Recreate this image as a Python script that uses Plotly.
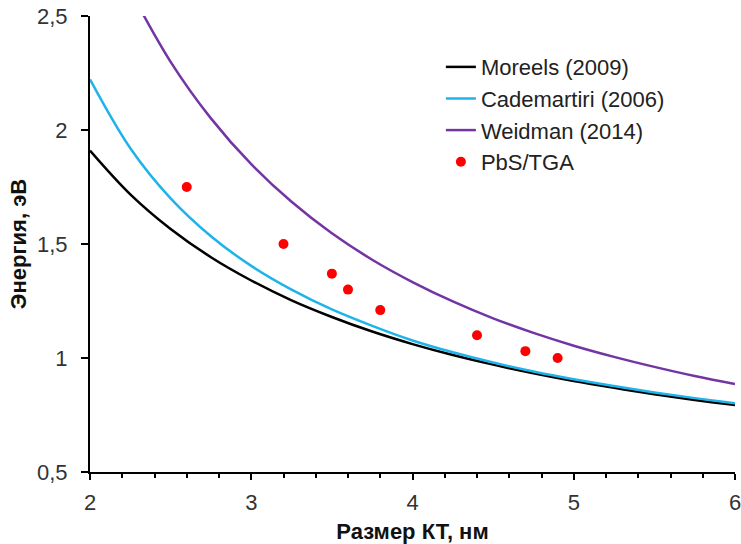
import plotly.graph_objects as go

# Size of quantum dot, nm
d_curve = [2.0, 2.25, 2.5, 2.75, 3.0, 3.25, 3.5, 3.75, 4.0, 4.25, 4.5, 4.75, 5.0, 5.25, 5.5, 5.75, 6.0]
moreels = [1.910, 1.718, 1.566, 1.442, 1.340, 1.253, 1.180, 1.116, 1.061, 1.013, 0.971, 0.933, 0.899, 0.869, 0.841, 0.816, 0.794]
cademartiri = [2.222, 1.920, 1.700, 1.534, 1.404, 1.300, 1.213, 1.141, 1.077, 1.025, 0.980, 0.941, 0.907, 0.877, 0.849, 0.824, 0.801]

d_weidman = [2.25, 2.5, 2.75, 3.0, 3.25, 3.5, 3.75, 4.0, 4.25, 4.5, 4.75, 5.0, 5.25, 5.5, 5.75, 6.0]
weidman = [2.611, 2.299, 2.051, 1.850, 1.685, 1.547, 1.431, 1.333, 1.248, 1.174, 1.110, 1.054, 1.005, 0.961, 0.921, 0.886]

d_exp = [2.6, 3.2, 3.5, 3.6, 3.8, 4.4, 4.7, 4.9]
e_exp = [1.75, 1.50, 1.37, 1.30, 1.21, 1.10, 1.03, 1.00]

x_ticks = [2, 3, 4, 5, 6]
y_ticks = [0.5, 1, 1.5, 2, 2.5]

FONT = "Liberation Sans, Arial, sans-serif"

fig = go.Figure()
fig.add_trace(go.Scatter(x=d_curve, y=moreels, mode="lines", name="Moreels (2009)",
                         line=dict(color="#000000", width=2.5, shape="spline")))
fig.add_trace(go.Scatter(x=d_curve, y=cademartiri, mode="lines", name="Cademartiri (2006)",
                         line=dict(color="#1EB4EA", width=2.5, shape="spline")))
fig.add_trace(go.Scatter(x=d_weidman, y=weidman, mode="lines", name="Weidman (2014)",
                         line=dict(color="#7334A4", width=2.5, shape="spline")))
fig.add_trace(go.Scatter(x=d_exp, y=e_exp, mode="markers", name="PbS/TGA",
                         marker=dict(color="#FF0000", size=10)))

fig.update_layout(
    width=741, height=544,
    margin=dict(l=90, r=6, t=16, b=72, autoexpand=False),
    paper_bgcolor="white", plot_bgcolor="white",
    separators=", ",
    font=dict(family=FONT, color="#333333", size=22),
    legend=dict(x=0.544, y=0.934, xanchor="left", yanchor="top",
                font=dict(size=22, color="#222222"), tracegroupgap=0,
                bgcolor="rgba(0,0,0,0)"),
    xaxis=dict(range=[2, 6], tickvals=x_ticks, showline=True, linecolor="#000000", linewidth=2,
               ticks="outside", ticklen=6, tickwidth=2, tickcolor="#000000",
               minor=dict(dtick=0.2, ticks="outside", ticklen=4, tickwidth=2, tickcolor="#000000"),
               showgrid=False, zeroline=False, ticklabelstandoff=4, automargin=False,
               ticklabeloverflow="allow",
               title=dict(text="<b>Размер КТ, нм</b>", font=dict(size=22, color="#111111"), standoff=10)),
    yaxis=dict(range=[0.5, 2.5], tickvals=y_ticks, showline=True, linecolor="#000000", linewidth=2,
               ticks="outside", ticklen=7, tickwidth=2, tickcolor="#000000",
               showgrid=False, zeroline=False, ticklabelstandoff=9, automargin=False,
               ticklabeloverflow="allow",
               title=dict(text="<b>Энергия, эВ</b>", font=dict(size=22, color="#111111"), standoff=4)),
)

fig.write_html("out.html", config={"displayModeBar": False},
               post_script="document.body.style.margin='0';")
